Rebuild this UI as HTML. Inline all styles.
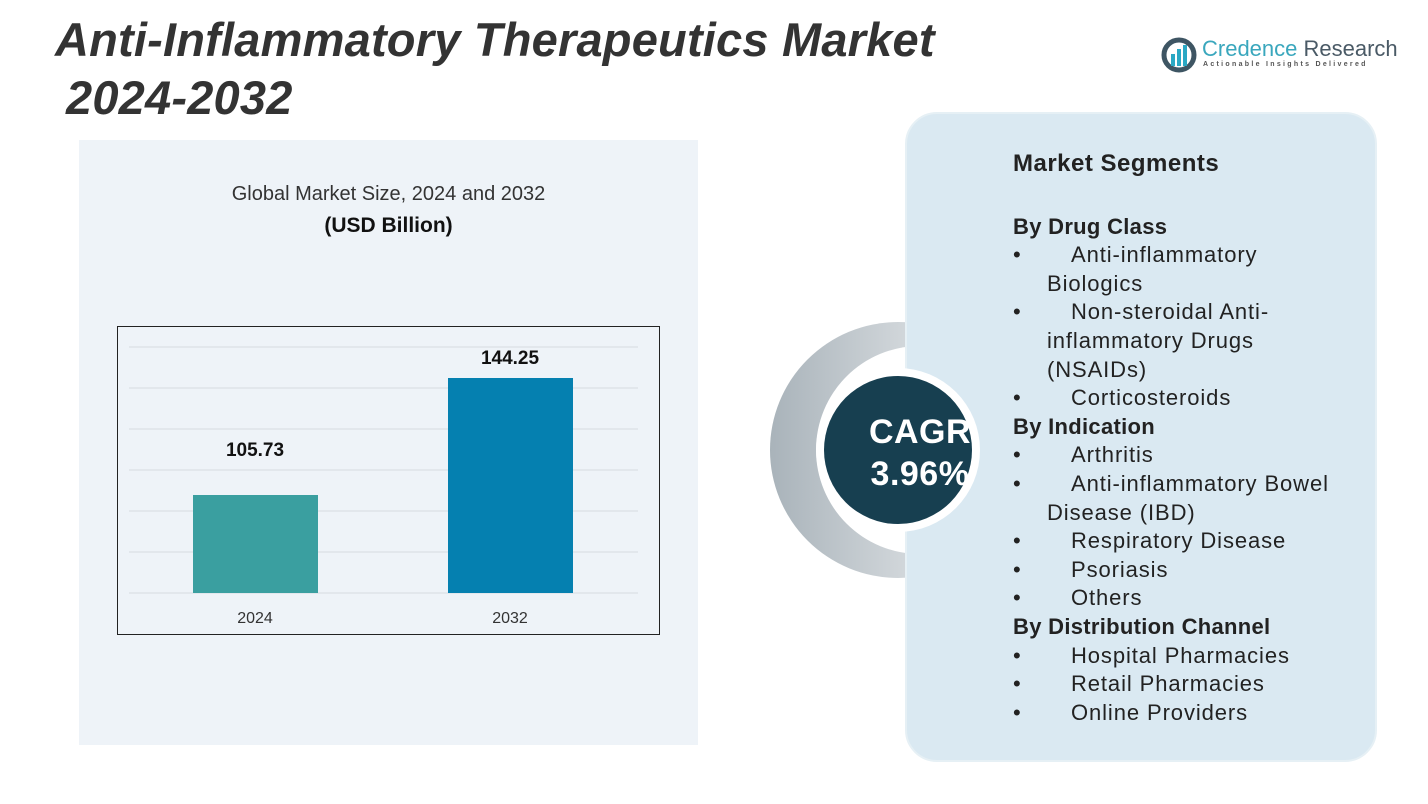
<!DOCTYPE html>
<html><head><style>
body{margin:0;width:1428px;height:804px;position:relative;background:#fff;font-family:"Liberation Sans",sans-serif;overflow:hidden}
.abs{position:absolute}
.t{font-style:italic;font-weight:bold;font-size:47px;color:#333;line-height:52px}
.list{left:1013px;top:150px;font-size:22px;color:#222;line-height:28.6px;width:345px;letter-spacing:0.9px}
.list b{font-size:22px;letter-spacing:0.3px}
.li{position:relative;padding-left:34px;text-indent:24px}
.li:before{content:"•";position:absolute;left:0;text-indent:0}
</style></head><body>
<div class="abs" style="left:79px;top:140px;width:619px;height:605px;background:#eef3f8"></div>
<svg class="abs" style="left:770px;top:315px" width="240" height="270">
<defs><linearGradient id="g" x1="0" x2="1"><stop offset="0" stop-color="#a9b3ba"/><stop offset="1" stop-color="#f5f6f7"/></linearGradient></defs>
<circle cx="128" cy="135" r="128" fill="url(#g)"/>
<circle cx="150" cy="135" r="104" fill="#fff"/>
</svg>
<div class="abs" style="left:905px;top:112px;width:468px;height:646px;background:#dae9f2;border-radius:32px;border:2px solid #e6f0f5"></div>
<svg class="abs" style="left:770px;top:315px" width="240" height="270">
<circle cx="128" cy="135" r="82" fill="#fff"/>
<circle cx="128" cy="135" r="74" fill="#173f50"/>
</svg>
<div class="abs" style="left:840px;top:411px;width:160px;text-align:center;font-size:34px;font-weight:bold;color:#fff;line-height:42px;letter-spacing:0.5px">CAGR<br>3.96%</div>
<div class="abs t" style="left:55px;top:14px;letter-spacing:0.2px">Anti-Inflammatory Therapeutics Market</div>
<div class="abs t" style="left:66px;top:72px;letter-spacing:0.2px">2024-2032</div>
<svg class="abs" style="left:1160px;top:36px" width="40" height="38"><circle cx="19" cy="19" r="15" fill="none" stroke="#3e5563" stroke-width="5"/><rect x="11" y="18" width="4" height="12" fill="#2aa8c4"/><rect x="17" y="13" width="4" height="17" fill="#2aa8c4"/><rect x="23" y="9" width="4" height="21" fill="#2aa8c4"/></svg>
<div class="abs" style="left:1202px;top:36px;font-size:22px;color:#3aa7bd">Credence <span style="color:#4a5a66">Research</span></div>
<div class="abs" style="left:1203px;top:61px;font-size:7px;letter-spacing:2.3px;color:#555;font-weight:bold">Actionable Insights Delivered</div>
<div class="abs" style="left:79px;top:183px;width:619px;text-align:center;font-size:20px;color:#333">Global Market Size, 2024 and 2032</div>
<div class="abs" style="left:79px;top:214px;width:619px;text-align:center;font-size:21px;font-weight:bold;color:#111">(USD Billion)</div>
<svg class="abs" style="left:117px;top:326px" width="544" height="310">
<rect x="0.5" y="0.5" width="542" height="308" fill="none" stroke="#222"/>
<g stroke="#d6dbe0"><line x1="12" x2="521" y1="21" y2="21"/><line x1="12" x2="521" y1="62" y2="62"/><line x1="12" x2="521" y1="103" y2="103"/><line x1="12" x2="521" y1="144" y2="144"/><line x1="12" x2="521" y1="185" y2="185"/><line x1="12" x2="521" y1="226" y2="226"/><line x1="12" x2="521" y1="267" y2="267"/></g>
<rect x="76" y="169" width="125" height="98" fill="#3a9fa0"/>
<rect x="331" y="52" width="125" height="215" fill="#0580b0"/>
<text x="138" y="130" font-size="19" font-weight="bold" text-anchor="middle" fill="#111" font-family="Liberation Sans">105.73</text>
<text x="393" y="38" font-size="19" font-weight="bold" text-anchor="middle" fill="#111" font-family="Liberation Sans">144.25</text>
<text x="138" y="297" font-size="16" text-anchor="middle" fill="#333" font-family="Liberation Sans">2024</text>
<text x="393" y="297" font-size="16" text-anchor="middle" fill="#333" font-family="Liberation Sans">2032</text>
</svg>
<div class="abs list">
<div style="font-size:24px;font-weight:bold;margin-bottom:34px;letter-spacing:0.5px">Market Segments</div>
<b>By Drug Class</b>
<div class="li">Anti-inflammatory Biologics</div>
<div class="li">Non-steroidal Anti-inflammatory Drugs (NSAIDs)</div>
<div class="li">Corticosteroids</div>
<b>By Indication</b>
<div class="li">Arthritis</div>
<div class="li">Anti-inflammatory Bowel Disease (IBD)</div>
<div class="li">Respiratory Disease</div>
<div class="li">Psoriasis</div>
<div class="li">Others</div>
<b>By Distribution Channel</b>
<div class="li">Hospital Pharmacies</div>
<div class="li">Retail Pharmacies</div>
<div class="li">Online Providers</div>
</div>
</body></html>
